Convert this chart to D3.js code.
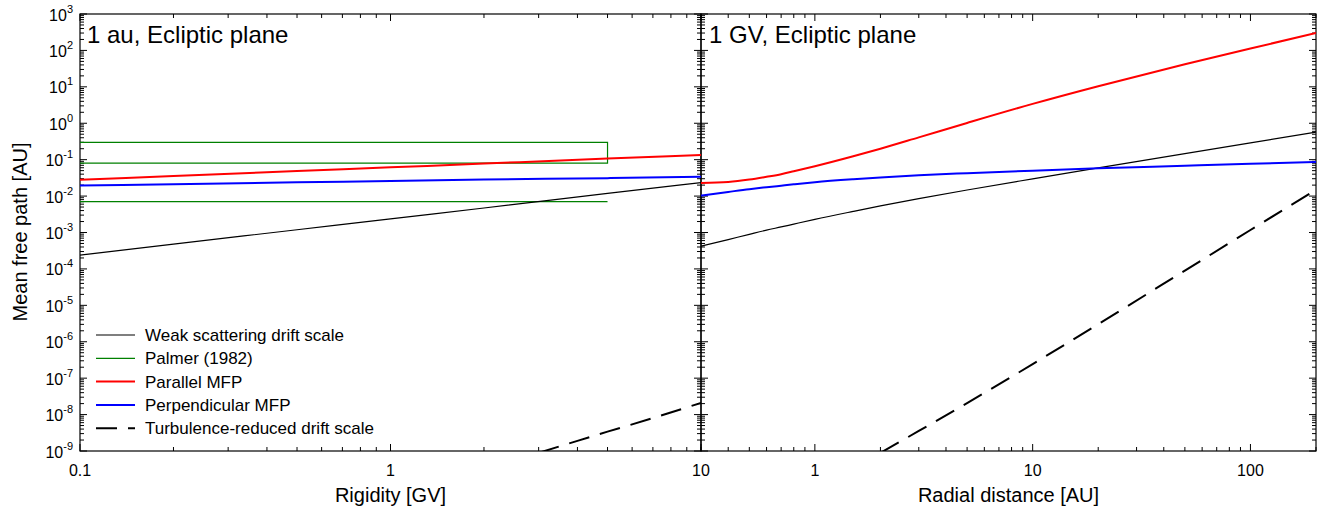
<!DOCTYPE html>
<html>
<head>
<meta charset="utf-8">
<script src="https://cdn.jsdelivr.net/npm/d3@7"></script>
<style>
  body { margin: 0; background: #fff; }
  svg { font-family: "Liberation Sans", Arial, sans-serif; }
</style>
</head>
<body>
<div id="chart"></div>
<script>
// ---- data ----
// left panel: 1 au, ecliptic plane, vs rigidity [GV]
const rigidity = [0.1, 0.2, 0.5, 1, 2, 5, 10];
const leftWeak = [2.4e-4, 4.8e-4, 1.19e-3, 2.37e-3, 4.7e-3, 0.0118, 0.0235];
const leftParallel = [0.028, 0.0355, 0.0486, 0.0615, 0.078, 0.107, 0.135];
const leftPerp = [0.0195, 0.0212, 0.0238, 0.026, 0.0284, 0.0311, 0.034];
const leftTurbRigidity = [3, 4, 5, 7, 10];
const leftTurb = [8.9e-10, 1.9e-9, 3.4e-9, 8e-9, 2.1e-8];
const palmerRigidity = [0.1, 5];
const palmerParallel = [0.08, 0.3];
const palmerPerp = 0.007;

// right panel: 1 GV, ecliptic plane, vs radial distance [AU]
const radial = [0.3, 0.4, 0.5, 0.6, 0.7, 0.8, 1, 1.5, 2, 3, 5, 10, 20, 50, 100, 200];
const rightParallel = [0.023, 0.0245, 0.0285, 0.034, 0.040, 0.048, 0.066, 0.124, 0.2, 0.41, 1.02, 3.4, 10.4, 41.5, 113, 300];
const rightPerp = [0.0103, 0.013, 0.0155, 0.0175, 0.0193, 0.021, 0.024, 0.029, 0.0325, 0.0372, 0.0425, 0.05, 0.058, 0.068, 0.077, 0.086];
const rightWeak = [4.2e-4, 6.4e-4, 8.9e-4, 1.16e-3, 1.42e-3, 1.70e-3, 2.29e-3, 3.79e-3, 5.36e-3, 8.47e-3, 0.01466, 0.0297, 0.0594, 0.147, 0.29, 0.569];
const rightTurbRadial = [2, 3, 5, 10, 20, 50, 100, 200];
const rightTurb = [8.9e-10, 3.55e-9, 2.07e-8, 2.43e-7, 3.05e-6, 9.0e-5, 1.17e-3, 0.0148];

const yExponents = d3.range(-9, 4);
const legendLabels = ["Weak scattering drift scale", "Palmer (1982)", "Parallel MFP",
                      "Perpendicular MFP", "Turbulence-reduced drift scale"];

// ---- layout ----
const width = 1321, height = 511;
const plotTop = 14, plotBottom = 451;

const svg = d3.select("#chart").append("svg")
  .attr("width", width)
  .attr("height", height);

const y = d3.scaleLog().domain([1e-9, 1e3]).range([plotBottom, plotTop]);

const xLeft = d3.scaleLog().domain([0.1, 10]).range([80, 701]);
const xRight = d3.scaleLog().domain([0.3, 200]).range([701, 1316]);

// minor + major y ticks
const yTicks = [];
yExponents.forEach(e => {
  for (let m = 1; m < 10; m++) {
    const v = m * Math.pow(10, e);
    if (v <= 1e3 + 1e-9) yTicks.push({ v, major: m === 1 });
  }
});

function drawPanel(x, id, labels) {
  const [x0, x1] = x.range();

  svg.append("clipPath").attr("id", id)
    .append("rect").attr("x", x0).attr("y", plotTop)
    .attr("width", x1 - x0).attr("height", plotBottom - plotTop);

  const g = svg.append("g");

  // x ticks, bottom and top, inward
  const xt = x.ticks().map(v => ({ v, major: Math.abs(Math.log10(v) - Math.round(Math.log10(v))) < 1e-9 }));
  g.append("g").selectAll("line").data(xt).join("line")
    .attr("x1", d => x(d.v)).attr("x2", d => x(d.v))
    .attr("y1", plotBottom).attr("y2", d => plotBottom - (d.major ? 7 : 4))
    .attr("stroke", "#000").attr("stroke-width", 1);
  g.append("g").selectAll("line").data(xt).join("line")
    .attr("x1", d => x(d.v)).attr("x2", d => x(d.v))
    .attr("y1", plotTop).attr("y2", d => plotTop + (d.major ? 7 : 4))
    .attr("stroke", "#000").attr("stroke-width", 1);

  // y ticks, both sides, inward
  [[x0, 1], [x1, -1]].forEach(([xe, dir]) => {
    g.append("g").selectAll("line").data(yTicks).join("line")
      .attr("x1", xe).attr("x2", d => xe + dir * (d.major ? 7 : 4))
      .attr("y1", d => y(d.v)).attr("y2", d => y(d.v))
      .attr("stroke", "#000").attr("stroke-width", 1);
  });

  // x tick labels
  g.append("g").selectAll("text").data(labels).join("text")
    .attr("x", d => x(d)).attr("y", 475.5)
    .attr("text-anchor", "middle")
    .attr("font-size", 16)
    .text(d => d);

  return g;
}

drawPanel(xLeft, "clipL", [0.1, 1, 10]);
drawPanel(xRight, "clipR", [1, 10, 100]);

// frames
[xLeft, xRight].forEach(x => {
  const [x0, x1] = x.range();
  svg.append("rect")
    .attr("x", x0).attr("y", plotTop)
    .attr("width", x1 - x0).attr("height", plotBottom - plotTop)
    .attr("fill", "none").attr("stroke", "#000").attr("stroke-width", 1.2);
});

// y tick labels (far left only)
const yl = svg.append("g").selectAll("text").data(yExponents).join("text")
  .attr("x", 73)
  .attr("y", d => y(Math.pow(10, d)) + 6.5)
  .attr("text-anchor", "end")
  .attr("font-size", 16);
yl.append("tspan").text("10");
yl.append("tspan").attr("font-size", 11).attr("dy", -8).text(d => d);

// axis titles
svg.append("text")
  .attr("transform", "translate(27,232) rotate(-90)")
  .attr("text-anchor", "middle").attr("font-size", 20)
  .text("Mean free path [AU]");
svg.append("text")
  .attr("x", 390.5).attr("y", 502)
  .attr("text-anchor", "middle").attr("font-size", 20)
  .text("Rigidity [GV]");
svg.append("text")
  .attr("x", 1008.5).attr("y", 502)
  .attr("text-anchor", "middle").attr("font-size", 20)
  .text("Radial distance [AU]");

// panel titles
svg.append("text").attr("x", 87).attr("y", 43).attr("font-size", 24).text("1 au, Ecliptic plane");
svg.append("text").attr("x", 709).attr("y", 43).attr("font-size", 24).text("1 GV, Ecliptic plane");

// ---- curves ----
function plot(x, clip, xs, ys, color, w, dash) {
  const line = d3.line()
    .x((d, i) => x(xs[i]))
    .y(d => y(d))
    .curve(d3.curveMonotoneX);
  svg.append("path")
    .datum(ys)
    .attr("clip-path", `url(#${clip})`)
    .attr("fill", "none")
    .attr("stroke", color)
    .attr("stroke-width", w)
    .attr("stroke-dasharray", dash || null)
    .attr("d", line);
}

// Palmer consensus range
const pl = svg.append("g").attr("clip-path", "url(#clipL)")
  .attr("fill", "none").attr("stroke", "#008000").attr("stroke-width", 1.2);
pl.append("path").attr("d", d3.line()([
  [xLeft(palmerRigidity[0]), y(palmerParallel[1])],
  [xLeft(palmerRigidity[1]), y(palmerParallel[1])],
  [xLeft(palmerRigidity[1]), y(palmerParallel[0])],
  [xLeft(palmerRigidity[0]), y(palmerParallel[0])]
]));
pl.append("line")
  .attr("x1", xLeft(palmerRigidity[0])).attr("x2", xLeft(palmerRigidity[1]))
  .attr("y1", y(palmerPerp)).attr("y2", y(palmerPerp));

plot(xLeft, "clipL", rigidity, leftWeak, "#000", 1.2);
plot(xLeft, "clipL", rigidity, leftParallel, "#ff0000", 2);
plot(xLeft, "clipL", rigidity, leftPerp, "#0000ff", 2);
plot(xLeft, "clipL", leftTurbRigidity, leftTurb, "#000", 2, "21,11");

plot(xRight, "clipR", radial, rightWeak, "#000", 1.2);
plot(xRight, "clipR", radial, rightParallel, "#ff0000", 2);
plot(xRight, "clipR", radial, rightPerp, "#0000ff", 2);
plot(xRight, "clipR", rightTurbRadial, rightTurb, "#000", 2, "21,11");

// ---- legend ----
const legendStyles = [
  { color: "#000", w: 1.2 },
  { color: "#008000", w: 1.2 },
  { color: "#ff0000", w: 2 },
  { color: "#0000ff", w: 2 },
  { color: "#000", w: 2, dash: "21,11" }
];
const lg = svg.append("g").selectAll("g").data(legendLabels).join("g")
  .attr("transform", (d, i) => `translate(96,${335 + i * 23.3})`);
lg.append("line")
  .attr("x1", 0).attr("x2", 39).attr("y1", 0).attr("y2", 0)
  .attr("stroke", (d, i) => legendStyles[i].color)
  .attr("stroke-width", (d, i) => legendStyles[i].w)
  .attr("stroke-dasharray", (d, i) => legendStyles[i].dash || null);
lg.append("text")
  .attr("x", 49).attr("y", 6)
  .attr("font-size", 17)
  .text(d => d);
</script>
</body>
</html>
